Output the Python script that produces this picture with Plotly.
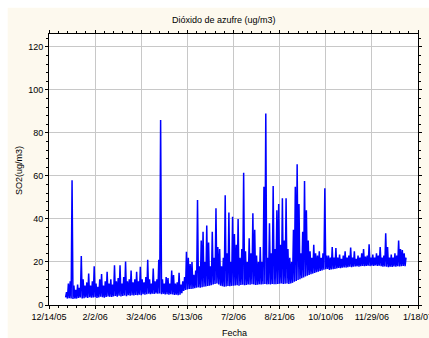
import datetime as dt
import plotly.graph_objects as go

# Two-day blocks starting 2006-01-01: lowest and highest SO2 reading (ug/m3) in each block
block_start = "2006-01-01"
block_days = 2

block_lows = [
    3.5, 3.0, 3.2, 3.0, 2.8, 3.0, 3.0, 3.3, 3.5, 3.0,
    3.2, 3.5, 3.3, 3.6, 3.4, 3.5, 3.6, 3.3, 3.5, 3.8,
    3.6, 3.4, 3.7, 4.0, 3.8, 3.7, 4.0, 4.2, 3.9, 4.3,
    4.0, 4.2, 4.4, 4.1, 4.5, 4.3, 4.6, 4.4, 4.7, 4.5,
    4.8, 4.6, 5.0, 4.8, 5.0, 5.2, 5.0, 5.3, 5.1, 5.4,
    5.2, 5.3, 5.0, 5.2, 4.9, 5.0, 4.8, 5.0, 4.9, 4.7,
    4.8, 4.6, 4.8, 5.5, 6.5, 7.0, 7.2, 7.4, 7.5, 7.6,
    7.8, 8.0, 8.2, 8.0, 8.3, 8.5, 8.6, 8.8, 9.0, 9.2,
    9.5, 9.8, 10.0, 9.5, 9.0, 8.7, 8.5, 8.6, 8.8, 8.7,
    8.9, 9.0, 9.1, 9.2, 9.0, 9.3, 9.4, 9.2, 9.3, 9.5,
    9.4, 9.6, 9.5, 9.3, 9.4, 9.6, 9.5, 9.7, 9.8, 9.6,
    9.7, 9.5, 9.8, 9.7, 9.6, 9.8, 9.9, 10.0, 9.8, 9.9,
    10.0, 9.8, 10.0, 10.3, 10.8, 11.2, 11.6, 12.0, 12.4, 12.8,
    13.2, 13.6, 14.0, 14.3, 14.6, 14.9, 15.2, 15.5, 15.8, 16.1,
    16.4, 16.6, 16.8, 16.3, 16.5, 16.6, 16.8, 17.0, 17.2, 17.1,
    17.3, 17.5, 17.4, 17.6, 17.8, 17.6, 17.8, 17.9, 18.0, 17.8,
    18.0, 18.2, 18.0, 18.2, 18.3, 18.1, 18.3, 18.2, 18.4, 18.2,
    18.3, 18.0, 17.8, 17.9, 17.8, 17.6, 17.8, 17.7, 17.9, 17.8,
    18.0, 17.9, 18.0, 18.2, 18.0,
]

block_highs = [
    6.0, 10.0, 11.0, 58.0, 9.0, 7.0, 9.5, 8.0, 22.8, 12.0,
    9.0, 10.5, 14.6, 9.0, 11.0, 18.0, 10.0, 8.5, 12.0, 14.4,
    9.0, 11.0, 15.5, 10.0, 12.0, 9.5, 18.5, 11.0, 12.5, 18.5,
    10.0, 13.0, 20.2, 11.0, 12.0, 16.0, 10.5, 12.0, 15.5, 11.0,
    17.8, 12.0, 10.5, 13.0, 21.0, 12.0, 10.0, 17.0, 11.0, 12.0,
    21.0, 86.0, 12.0, 10.0, 13.0, 12.5, 10.0, 16.0, 13.9, 10.0,
    10.5, 15.0, 9.5, 11.0, 13.0, 24.8, 22.0, 19.0, 20.0, 14.0,
    16.0, 48.8, 18.0, 30.0, 34.0, 20.0, 37.0, 29.0, 18.0, 34.0,
    22.0, 45.0, 27.0, 26.0, 18.0, 22.0, 51.0, 24.0, 43.0, 20.0,
    41.0, 33.0, 28.0, 40.0, 22.0, 26.0, 61.5, 25.0, 20.0, 31.0,
    24.0, 42.6, 35.0, 23.0, 20.0, 27.0, 20.0, 55.0, 89.0, 22.0,
    38.0, 24.0, 55.3, 26.0, 44.0, 47.0, 28.0, 49.6, 30.0, 49.6,
    26.0, 22.0, 20.0, 35.0, 55.0, 65.4, 47.0, 24.0, 34.0, 57.7,
    44.0, 30.0, 25.0, 22.0, 28.0, 24.0, 23.0, 25.0, 22.0, 24.0,
    54.3, 23.0, 23.0, 22.0, 27.0, 22.0, 26.5, 22.0, 23.5, 21.5,
    23.0, 25.0, 22.0, 23.0, 26.7, 22.0, 25.0, 21.5, 23.0, 22.0,
    24.0, 26.0, 22.5, 23.0, 28.2, 22.0, 23.5, 22.0, 24.0, 23.0,
    27.0, 22.0, 23.0, 33.3, 27.0, 22.0, 23.5, 22.0, 24.0, 23.0,
    30.0, 26.0, 25.5, 24.0, 22.0,
]

x_tick_labels = ["12/14/05", "2/2/06", "3/24/06", "5/13/06", "7/2/06",
                 "8/21/06", "10/10/06", "11/29/06", "1/18/07"]
y_tick_values = [0, 20, 40, 60, 80, 100, 120]

# Interleave each block's low (first day) and high (second day) into one trace
start = dt.date.fromisoformat(block_start)
dates, values = [], []
for i, (lo, hi) in enumerate(zip(block_lows, block_highs)):
    d0 = start + dt.timedelta(days=block_days * i)
    dates.append(d0)
    values.append(lo)
    dates.append(d0 + dt.timedelta(days=1))
    values.append(hi)

tick_dates = [dt.datetime.strptime(t, "%m/%d/%y").date() for t in x_tick_labels]

FONT = "Liberation Sans, Arial, sans-serif"
CREAM = "#fdf9ee"

fig = go.Figure(
    go.Scatter(x=dates, y=values, mode="lines",
               line=dict(color="#0000ff", width=1.5), hoverinfo="skip")
)

fig.update_layout(
    width=429, height=338,
    margin=dict(l=49, r=11, t=34, b=33, autoexpand=False),
    paper_bgcolor=CREAM, plot_bgcolor="white",
    showlegend=False,
    font=dict(family=FONT, size=9, color="black"),
    shapes=[
        dict(type="rect", xref="paper", yref="paper", layer="below",
             x0=-0.2, x1=1.1, y0=1.097, y1=1.2, fillcolor="white", line_width=0),
        dict(type="rect", xref="paper", yref="paper", layer="below",
             x0=-0.2, x1=-0.112, y0=-0.2, y1=1.2, fillcolor="white", line_width=0),
    ],
    annotations=[
        dict(text="Dióxido de azufre (ug/m3)", xref="paper", yref="paper",
             x=0.474, y=1.052, xanchor="center", yanchor="middle",
             showarrow=False, font=dict(size=9)),
        dict(text="SO2(ug/m3)", xref="paper", yref="paper",
             x=-0.081, y=0.495, xanchor="center", yanchor="middle",
             textangle=-90, showarrow=False, font=dict(size=9)),
        dict(text="Fecha", xref="paper", yref="paper",
             x=0.504, y=-0.105, xanchor="center", yanchor="middle",
             showarrow=False, font=dict(size=9)),
    ],
)

fig.update_xaxes(
    type="date",
    range=[tick_dates[0], tick_dates[-1]],
    tickmode="array", tickvals=tick_dates, ticktext=x_tick_labels,
    ticklabeloverflow="allow", automargin=False,
    showgrid=True, gridcolor="#c8c8c8", gridwidth=1,
    showline=True, linecolor="black", linewidth=1, mirror="allticks",
    ticks="outside", ticklen=3, tickcolor="black",
    minor=dict(dtick=10 * 86400000, tick0=tick_dates[0], ticks="outside",
               ticklen=2, tickcolor="black", showgrid=False),
    zeroline=False,
)

fig.update_yaxes(
    range=[0, 126],
    tickmode="array", tickvals=y_tick_values, automargin=False,
    showgrid=True, gridcolor="#c8c8c8", gridwidth=1,
    showline=True, linecolor="black", linewidth=1, mirror="allticks",
    ticks="outside", ticklen=3, tickcolor="black",
    minor=dict(dtick=4, ticks="outside", ticklen=2, tickcolor="black",
               showgrid=False),
    zeroline=False,
)

fig.write_html("out.html")
